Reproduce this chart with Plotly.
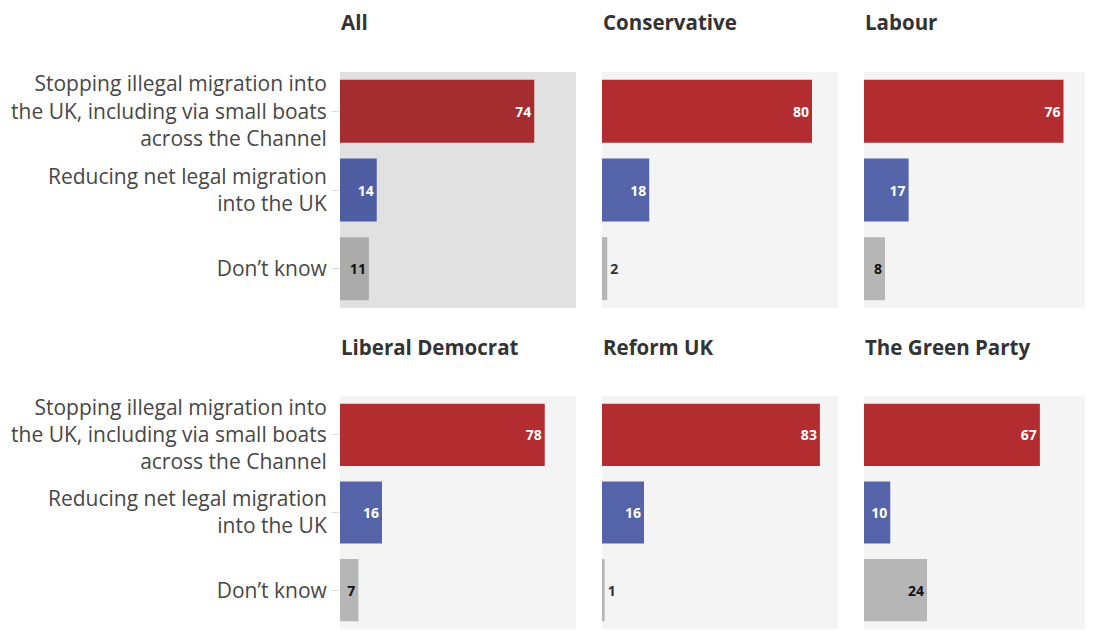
import plotly.graph_objects as go

categories = [
    "Stopping illegal migration into<br>the UK, including via small boats<br>across the Channel",
    "Reducing net legal migration<br>into the UK",
    "Don\u2019t know",
]
panels = ["All", "Conservative", "Labour", "Liberal Democrat", "Reform UK", "The Green Party"]
values = {
    "All": [74, 14, 11],
    "Conservative": [80, 18, 2],
    "Labour": [76, 17, 8],
    "Liberal Democrat": [78, 16, 7],
    "Reform UK": [83, 16, 1],
    "The Green Party": [67, 10, 24],
}

FONT = "Open Sans"
OFF = 8  # page body margin
W, H = 1093 - OFF, 631 - OFF
col_px = [(340, 576), (602, 838), (864, 1093)]
row_px = [(72, 308), (396, 629)]
title_px = [22, 347]
px_per_unit = 2.625

fig = go.Figure()
for i, name in enumerate(panels):
    r, c = divmod(i, 3)
    n = i + 1
    xa = "x" if n == 1 else f"x{n}"
    ya = "y" if n == 1 else f"y{n}"
    highlight = name == "All"
    if highlight:
        colors = ["#a52d30", "#4f5ea3", "#ababab"]
        bg = "#e1e1e1"
    else:
        colors = ["#b22c30", "#5563a8", "#b6b6b6"]
        bg = "#f4f4f4"
    vals = values[name]
    positions = []
    tcolors = []
    for j, v in enumerate(vals):
        if v < 4:
            positions.append("outside")
            tcolors.append("#333333")
        else:
            positions.append("inside")
            tcolors.append("#ffffff" if j < 2 else "#111111")
    fig.add_trace(go.Bar(
        x=vals, y=categories, orientation="h",
        marker=dict(color=colors, line=dict(width=0)),
        width=0.8,
        text=[str(v) for v in vals],
        textposition=positions,
        insidetextanchor="end",
        textangle=0,
        constraintext="none",
        cliponaxis=False,
        textfont=dict(family=FONT, size=14, color=tcolors, weight="bold"),
        hoverinfo="skip",
        showlegend=False,
        xaxis=xa, yaxis=ya,
    ))
    x0, x1 = col_px[c]
    y0, y1 = row_px[r]
    x0 -= OFF; x1 -= OFF; y0 -= OFF; y1 -= OFF
    dom_x = [x0 / W, min(x1 / W, 1.0)]
    dom_y = [max(1 - y1 / H, 0.0), 1 - y0 / H]
    xr = (x1 - x0) / px_per_unit
    fig.update_layout(**{
        ("xaxis" if n == 1 else f"xaxis{n}"): dict(
            domain=dom_x, range=[0, xr], showticklabels=False, showgrid=False,
            zeroline=False, showline=False, fixedrange=True, anchor=ya,
            automargin=False,
        ),
        ("yaxis" if n == 1 else f"yaxis{n}"): dict(
            domain=dom_y, categoryorder="array", categoryarray=categories,
            autorange="reversed", showgrid=False, zeroline=False, showline=False,
            showticklabels=(c == 0), ticks="outside" if c == 0 else "",
            ticklen=8, tickcolor="#dddddd", tickwidth=1,
            tickfont=dict(family=FONT, size=21, color="#474747"),
            fixedrange=True, anchor=xa, automargin=False,
        ),
    })
    fig.add_shape(type="rect", xref="paper", yref="paper",
                  x0=dom_x[0], x1=dom_x[1], y0=dom_y[0], y1=dom_y[1],
                  fillcolor=bg, line=dict(width=0), layer="below")
    fig.add_annotation(text=f"<b>{name}</b>", xref="paper", yref="paper",
                       x=dom_x[0] - 1 / W, y=1 - (title_px[r] - OFF) / H, xanchor="left", yanchor="middle",
                       showarrow=False, font=dict(family=FONT, size=20.5, color="#333333"))

fig.update_layout(
    width=W, height=H,
    margin=dict(l=0, r=0, t=0, b=0, autoexpand=False),
    paper_bgcolor="white", plot_bgcolor="rgba(0,0,0,0)",
    bargap=0.2,
)
fig.write_html("out.html")
